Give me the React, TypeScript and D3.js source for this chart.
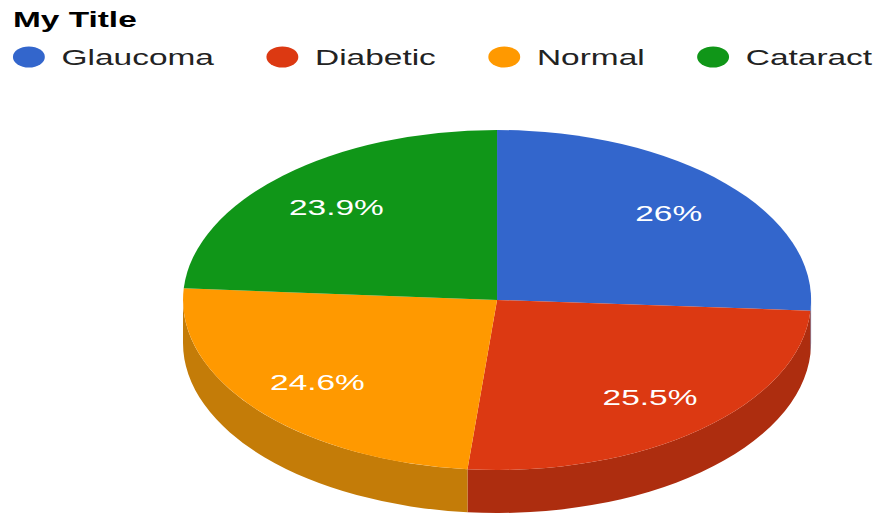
import React from "react";
import * as d3 from "d3";

const categories = ["Glaucoma", "Diabetic", "Normal", "Cataract"];
const values = [26, 25.5, 24.6, 23.9];
const labels = ["26%", "25.5%", "24.6%", "23.9%"];
const topColors = ["#3366cc", "#dc3912", "#ff9900", "#109618"];
const sideColors = ["#264d99", "#ad2d0f", "#c47c08", "#0c7012"];
const title = "My Title";

const W = 882;
const H = 517;
const SX = 1.52; // horizontal stretch of the whole picture
const FONT = "'Liberation Sans', Arial, Helvetica, sans-serif";

function measure(text: string, font: string): number {
  if (typeof document === "undefined") return text.length * 11;
  const c = document.createElement("canvas");
  const ctx = c.getContext("2d");
  if (!ctx) return text.length * 11;
  ctx.font = font;
  return ctx.measureText(text).width;
}

export default function App() {
  const cx = 327;
  const cy = 300;
  const rx = 206.6;
  const ry = 170;
  const depth = 43;

  const pie = d3
    .pie<number>()
    .sort(null)
    .value((d) => d)
    .startAngle(0)
    .endAngle(2 * Math.PI);
  const arcs = pie(values);

  const pt = (a: number, dy = 0) => [cx + rx * Math.sin(a), cy - ry * Math.cos(a) + dy];

  const topPath = (a0: number, a1: number) => {
    const p0 = pt(a0);
    const p1 = pt(a1);
    const large = a1 - a0 > Math.PI ? 1 : 0;
    return `M${cx},${cy}L${p0[0]},${p0[1]}A${rx},${ry} 0 ${large} 1 ${p1[0]},${p1[1]}Z`;
  };

  const sidePath = (a0: number, a1: number) => {
    const s = Math.max(a0, Math.PI / 2);
    const e = Math.min(a1, (3 * Math.PI) / 2);
    if (e <= s) return null;
    const p0 = pt(s);
    const p1 = pt(e);
    const q1 = pt(e, depth);
    const q0 = pt(s, depth);
    return `M${p0[0]},${p0[1]}A${rx},${ry} 0 0 1 ${p1[0]},${p1[1]}L${q1[0]},${q1[1]}A${rx},${ry} 0 0 0 ${q0[0]},${q0[1]}Z`;
  };

  // legend layout (unstretched coordinates)
  const legendFont = `22px ${FONT}`;
  const legendItems: { cxc: number; tx: number; name: string; color: string }[] = [];
  let cursor = 19;
  categories.forEach((name, i) => {
    const tx = cursor + 21.5;
    legendItems.push({ cxc: cursor, tx, name, color: topColors[i] });
    cursor = tx + measure(name, legendFont) + 45;
  });

  return (
    <svg
      width={W}
      height={H}
      style={{ position: "absolute", left: 0, top: 0, background: "#ffffff" }}
    >
      <rect x={0} y={0} width={W} height={H} fill="#ffffff" />
      <g transform={`scale(${SX},1)`}>
        <text x={8.5} y={27} fontFamily={FONT} fontSize={22} fontWeight="bold" fill="#000000">
          {title}
        </text>
        {legendItems.map((it) => (
          <g key={it.name}>
            <circle cx={it.cxc} cy={57} r={10.5} fill={it.color} />
            <text x={it.tx} y={65} fontFamily={FONT} fontSize={22} fill="#222222">
              {it.name}
            </text>
          </g>
        ))}
        <g>
          {arcs.map((a, i) => {
            const d = sidePath(a.startAngle, a.endAngle);
            return d ? <path key={"s" + i} d={d} fill={sideColors[i]} /> : null;
          })}
          {arcs.map((a, i) => (
            <path key={"t" + i} d={topPath(a.startAngle, a.endAngle)} fill={topColors[i]} />
          ))}
          {arcs.map((a, i) => {
            const mid = (a.startAngle + a.endAngle) / 2;
            const x = cx + 0.75 * rx * Math.sin(mid);
            const y = cy - 0.75 * ry * Math.cos(mid);
            return (
              <text
                key={"l" + i}
                x={x}
                y={y + 8}
                textAnchor="middle"
                fontFamily={FONT}
                fontSize={22}
                fill="#ffffff"
              >
                {labels[i]}
              </text>
            );
          })}
        </g>
      </g>
    </svg>
  );
}
